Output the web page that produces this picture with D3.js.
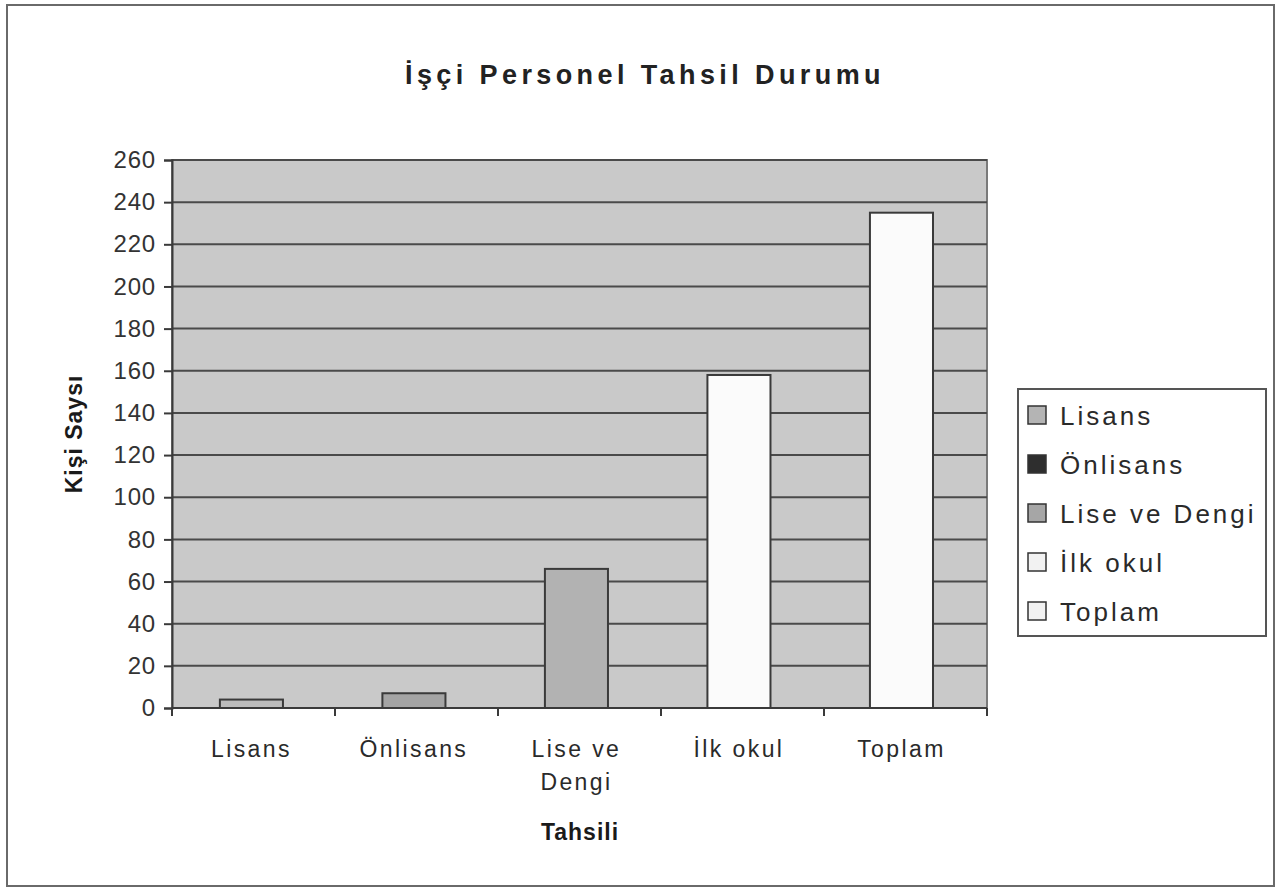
<!DOCTYPE html>
<html>
<head>
<meta charset="utf-8">
<script src="https://cdn.jsdelivr.net/npm/d3@7"></script>
<style>
  body { margin: 0; background: #fff; }
  text { font-family: "Liberation Sans", Arial, sans-serif; }
</style>
</head>
<body>
<svg width="1280" height="890"></svg>
<script>
// data
var categories = ["Lisans", "Önlisans", "Lise ve Dengi", "İlk okul", "Toplam"];
var axisLabels = [["Lisans"], ["Önlisans"], ["Lise ve", "Dengi"], ["İlk okul"], ["Toplam"]];
var values = [4, 7, 66, 158, 235];
var yTicks = [0, 20, 40, 60, 80, 100, 120, 140, 160, 180, 200, 220, 240, 260];

var barFill    = ["#bcbcbc", "#a4a4a4", "#b2b2b2", "#fbfbfb", "#fbfbfb"];
var legendFill = ["#b4b4b4", "#2e2e2e", "#a6a6a6", "#f2f2f2", "#f2f2f2"];

var svg = d3.select("svg"),
    plotLeft = 172, plotRight = 987, plotTop = 160, plotBottom = 708;

// outer frame
svg.append("rect")
    .attr("x", 7).attr("y", 5).attr("width", 1267).attr("height", 881)
    .attr("fill", "#fff").attr("stroke", "#6a6a6a").attr("stroke-width", 2)

svg.append("text")
    .attr("x", 645).attr("y", 84)
    .attr("text-anchor", "middle")
    .style("font-size", "27px").style("font-weight", "bold")
    .style("letter-spacing", "4.4px")
    .attr("fill", "#222")
    .text("İşçi  Personel Tahsil Durumu")

var x = d3.scaleBand()
    .domain(categories)
    .range([plotLeft, plotRight])
    .paddingInner(0.612)
    .paddingOuter(0.3135)
    .align(0.47)

var y = d3.scaleLinear()
    .domain([0, 260])
    .range([plotBottom, plotTop])

// plot area
svg.append("rect")
    .attr("x", plotLeft).attr("y", plotTop)
    .attr("width", plotRight - plotLeft).attr("height", plotBottom - plotTop)
    .attr("fill", "#c9c9c9")
    .attr("stroke", "#7a7a7a").attr("stroke-width", 2)

// gridlines
svg.append("g")
    .selectAll("line")
    .data(yTicks.filter(function(d){ return d > 0 }))
    .enter()
    .append("line")
      .attr("x1", plotLeft).attr("x2", plotRight)
      .attr("y1", function(d){ return y(d) })
      .attr("y2", function(d){ return y(d) })
      .attr("stroke", "#4a4a4a")
      .attr("stroke-width", 2)

// bars
svg.append("g")
    .selectAll("rect")
    .data(values)
    .enter()
    .append("rect")
      .attr("x", function(d, i){ return x(categories[i]) })
      .attr("y", function(d){ return y(d) })
      .attr("width", x.bandwidth())
      .attr("height", function(d){ return y(0) - y(d) })
      .attr("fill", function(d, i){ return barFill[i] })
      .attr("stroke", "#3a3a3a")
      .attr("stroke-width", 2)

// y axis
var yAxis = svg.append("g")
    .attr("transform", "translate(" + plotLeft + ",0)")
    .call(d3.axisLeft(y).tickValues(yTicks).tickSize(8).tickPadding(8))
yAxis.select(".domain").attr("stroke", "#3a3a3a").attr("stroke-width", 2)
yAxis.selectAll(".tick line").attr("stroke", "#3a3a3a").attr("stroke-width", 2)
yAxis.selectAll(".tick text")
    .style("font-size", "24px")
    .style("letter-spacing", "0.8px")
    .attr("fill", "#333")

// x axis: ticks at category boundaries
var step = (plotRight - plotLeft) / categories.length;
var bounds = d3.range(categories.length + 1).map(function(i){ return plotLeft + i * step });
svg.append("line")
    .attr("x1", plotLeft).attr("x2", plotRight)
    .attr("y1", plotBottom).attr("y2", plotBottom)
    .attr("stroke", "#3a3a3a").attr("stroke-width", 2)
svg.append("g")
    .selectAll("line")
    .data(bounds)
    .enter()
    .append("line")
      .attr("x1", function(d){ return d }).attr("x2", function(d){ return d })
      .attr("y1", plotBottom).attr("y2", plotBottom + 8)
      .attr("stroke", "#3a3a3a").attr("stroke-width", 2)

var xl = svg.append("g")
    .selectAll("text")
    .data(axisLabels)
    .enter()
    .append("text")
      .attr("text-anchor", "middle")
      .attr("x", function(d, i){ return x(categories[i]) + x.bandwidth() / 2 })
      .attr("y", 757)
      .style("font-size", "23px")
      .style("letter-spacing", "2.4px")
      .attr("fill", "#2a2a2a")
xl.selectAll("tspan")
    .data(function(d){ return d })
    .enter()
    .append("tspan")
      .attr("x", function(){ return d3.select(this.parentNode).attr("x") })
      .attr("dy", function(d, i){ return i ? 33 : 0 })
      .text(function(d){ return d })

// axis titles
svg.append("text")
    .attr("x", 580).attr("y", 840)
    .attr("text-anchor", "middle")
    .style("font-size", "23px").style("font-weight", "bold")
    .style("letter-spacing", "1px")
    .attr("fill", "#1a1a1a")
    .text("Tahsili")

svg.append("text")
    .attr("transform", "translate(82,434) rotate(-90)")
    .attr("text-anchor", "middle")
    .style("font-size", "23px").style("font-weight", "bold")
    .style("letter-spacing", "1px")
    .attr("fill", "#1a1a1a")
    .text("Kişi Saysı")

// legend
var legend = svg.append("g")
legend.append("rect")
    .attr("x", 1018).attr("y", 389).attr("width", 248).attr("height", 247)
    .attr("fill", "#fff").attr("stroke", "#555").attr("stroke-width", 2)

var rows = legend.selectAll("g.row")
    .data(categories)
    .enter()
    .append("g")
      .attr("class", "row")
      .attr("transform", function(d, i){ return "translate(1028," + (415 + i * 49) + ")" })
rows.append("rect")
    .attr("x", 0).attr("y", -9).attr("width", 18).attr("height", 18)
    .attr("fill", function(d, i){ return legendFill[i] })
    .attr("stroke", "#333").attr("stroke-width", 1.5)
rows.append("text")
    .attr("x", 32).attr("y", 10)
    .style("font-size", "26px")
    .style("letter-spacing", "3px")
    .attr("fill", "#2a2a2a")
    .text(function(d){ return d })
</script>
</body>
</html>
